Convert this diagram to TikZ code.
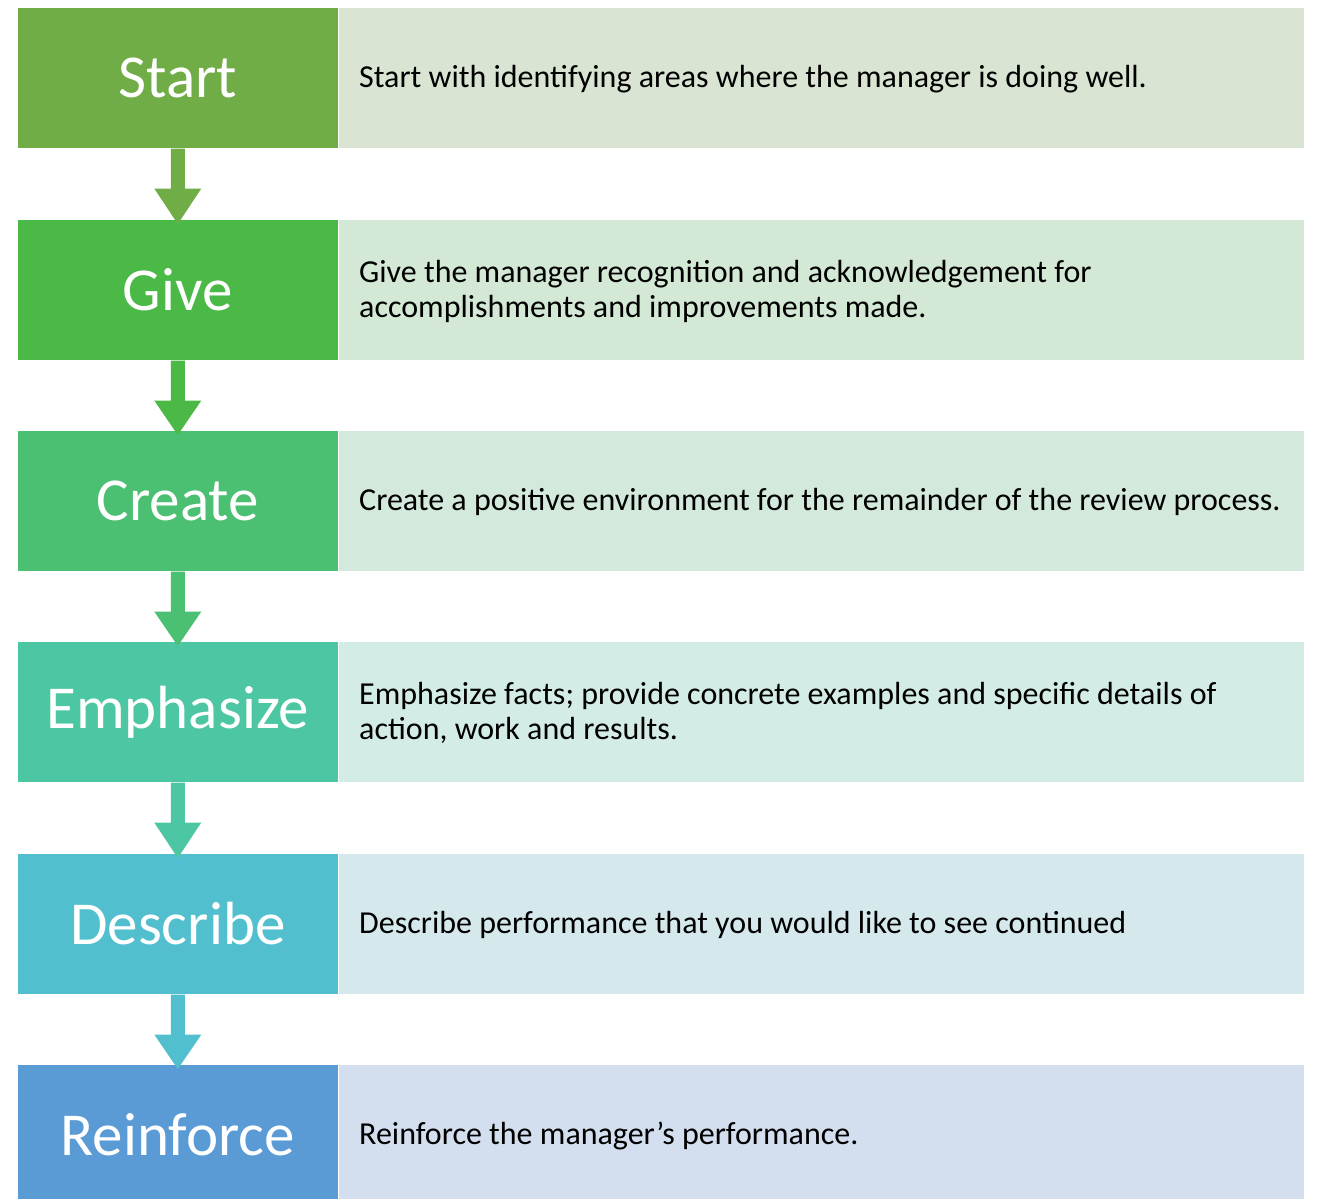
\documentclass[tikz,border=0pt]{standalone}
\usepackage{fontspec}
\setmainfont{Carlito}
\usetikzlibrary{calc}
\definecolor{d1}{HTML}{70AD47}\definecolor{l1}{HTML}{D9E4D3}
\definecolor{d2}{HTML}{4AB946}\definecolor{l2}{HTML}{D3E8D5}
\definecolor{d3}{HTML}{4BC072}\definecolor{l3}{HTML}{D3E9DB}
\definecolor{d4}{HTML}{4DC7A3}\definecolor{l4}{HTML}{D3ECE6}
\definecolor{d5}{HTML}{52BFCE}\definecolor{l5}{HTML}{D5E8EC}
\definecolor{d6}{HTML}{5B9BD5}\definecolor{l6}{HTML}{D3DFEE}
\tikzset{
  keybox/.style={rectangle, inner sep=0pt, anchor=north west, minimum width=321pt, minimum height=141pt, draw=white, line width=0.6pt, text=white, font=\fontsize{61}{66}\selectfont},
  descbox/.style={rectangle, inner sep=0pt, anchor=north west, minimum width=966pt, minimum height=141pt, draw=white, line width=0.6pt},
  desctext/.style={anchor=west, inner sep=0pt, align=left, text=black, font=\fontsize{32}{35}\selectfont},
}
\begin{document}
\begin{tikzpicture}[x=1pt,y=-1pt]
\useasboundingbox (0,0) rectangle (1317,1199);
\clip (0,0) rectangle (1317,1199);
\foreach \i/\k/\t/\yy in {1/Start/{Start with identifying areas where the manager is doing well.}/7,
  2/Give/{Give the manager recognition and acknowledgement for\\accomplishments and improvements made.}/219,
  3/Create/{Create a positive environment for the remainder of the review process.}/430,
  4/Emphasize/{Emphasize facts; provide concrete examples and specific details of\\action, work and results.}/641,
  5/Describe/{Describe performance that you would like to see continued}/853,
  6/Reinforce/{Reinforce the manager’s performance.}/1064}{
  \node[descbox, fill=l\i] (d\i) at (338,\yy) {};
  \node[keybox, fill=d\i] (k\i) at (17,\yy) {\k};
  \node[desctext] (t\i) at ($(d\i.west)+(21,1.5)$) {\t};
}
\foreach \i [evaluate=\i as \j using int(\i+1)] in {1,...,5}{
  \fill[d\i] ($(k\i.south)+(-7,0)$) -- ($(k\i.south)+(7,0)$) -- ($(k\i.south)+(7,40)$) -- ($(k\i.south)+(23.5,40)$)
    -- ($(k\j.north)+(0,5)$) -- ($(k\i.south)+(-23.5,40)$) -- ($(k\i.south)+(-7,40)$) -- cycle;
}
\end{tikzpicture}
\end{document}
